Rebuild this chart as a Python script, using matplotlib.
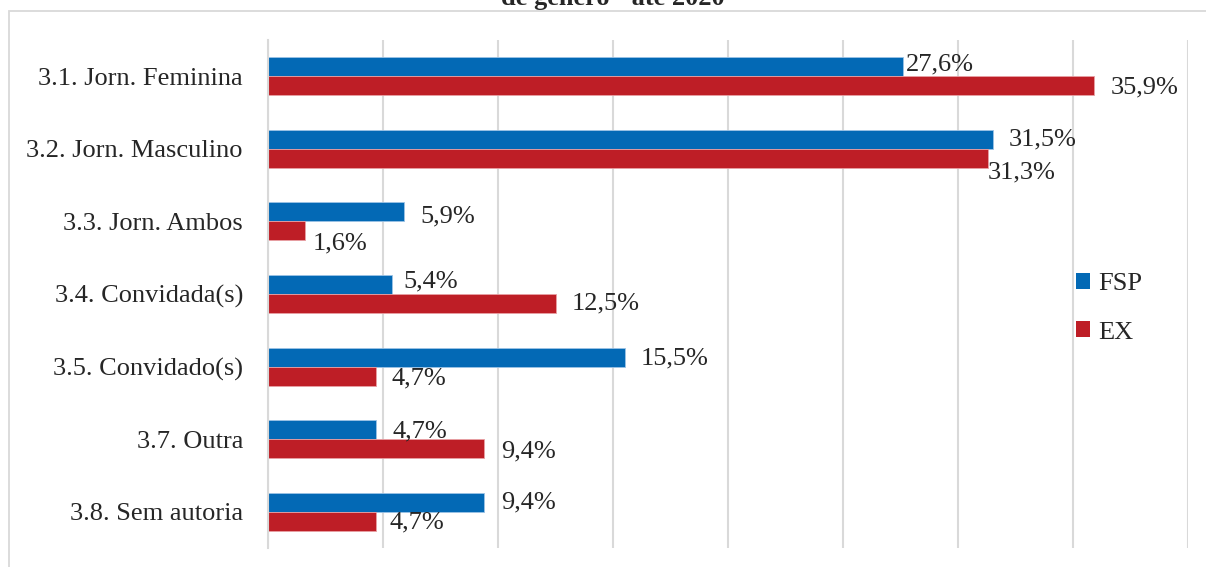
import matplotlib
matplotlib.use("Agg")
import matplotlib.pyplot as plt
from matplotlib.patches import Rectangle, Patch
import numpy as np

categories = ["3.1. Jorn. Feminina", "3.2. Jorn. Masculino", "3.3. Jorn. Ambos",
              "3.4. Convidada(s)", "3.5. Convidado(s)", "3.7. Outra", "3.8. Sem autoria"]
fsp = [27.6, 31.5, 5.9, 5.4, 15.5, 4.7, 9.4]
ex = [35.9, 31.3, 1.6, 12.5, 4.7, 9.4, 4.7]
series_names = ["FSP", "EX"]
title_tail = "de gênero - até 2020"

BLUE = "#0369b5"
RED = "#be1e26"
GRID = "#d9d9d9"
TXT = "#262626"
FS = 19

plt.rcParams["font.family"] = ["Liberation Serif", "DejaVu Serif"]

W, H = 1206, 567
fig = plt.figure(figsize=(W / 100, H / 100), dpi=100)
fig.patch.set_facecolor("white")

# outer chart frame
fig.patches.append(Rectangle((9 / W, -0.2), 1.5, 1.2 - 11 / H,
                             transform=fig.transFigure, fill=False,
                             edgecolor=GRID, linewidth=1.3))
fig.text(613 / W, 1 - 5 / H, title_tail, ha="center", va="baseline",
         fontsize=19, fontweight="bold", color=TXT)

ax = fig.add_axes([268 / W, 1 - 548 / H, (1188 - 268) / W, (548 - 40) / H])
y = np.arange(len(categories))
bh = 0.262
ax.barh(y - bh / 2, fsp, height=bh, color=BLUE, edgecolor="#9cc3e6", linewidth=0.6)
ax.barh(y + bh / 2, ex, height=bh, color=RED, edgecolor="#e8a0a4", linewidth=0.6)

ax.set_xlim(0, 40)
ax.set_ylim(len(categories) - 0.5, -0.5)
ax.set_xticks(np.arange(0, 41, 5))
ax.xaxis.grid(True, color=GRID, linewidth=1.5)
ax.set_axisbelow(True)
ax.tick_params(axis="x", length=0, labelbottom=False)
ax.tick_params(axis="y", length=0, pad=18, labelsize=FS, labelcolor=TXT)
ax.set_yticks(y)
ax.set_yticklabels(categories)
for s in ["top", "right", "bottom"]:
    ax.spines[s].set_visible(False)
ax.spines["left"].set_color(GRID)
ax.spines["left"].set_linewidth(1.5)
ax.patch.set_alpha(0)

def pct(v):
    return f"{v:.1f}".replace(".", ",") + "%"

# label nudges (points) relative to default outside-end placement
fsp_nudge = [(2, 2), (12, 0), (12, -3), (8, 2), (12, -1), (12, -1), (12, 0)]
ex_nudge = [(12, -1), (0, -10), (6, -9), (12, 0), (11, -2), (12, -2), (10, -1)]

for i, v in enumerate(fsp):
    dx, dy = fsp_nudge[i]
    ax.annotate(pct(v), (v, i - bh / 2), xytext=(dx, dy), textcoords="offset points",
                ha="left", va="center", fontsize=FS, color=TXT)
for i, v in enumerate(ex):
    dx, dy = ex_nudge[i]
    ax.annotate(pct(v), (v, i + bh / 2), xytext=(dx, dy), textcoords="offset points",
                ha="left", va="center", fontsize=FS, color=TXT)

handles = [Patch(facecolor=BLUE), Patch(facecolor=RED)]
fig.legend(handles, series_names, loc="upper left",
           bbox_to_anchor=(1052 / W, 1 - 249 / H), frameon=False,
           fontsize=FS, handlelength=0.55, handleheight=0.55, handletextpad=0.3,
           labelspacing=1.0, labelcolor=TXT)

fig.savefig("out.png", dpi=100, facecolor="white")
